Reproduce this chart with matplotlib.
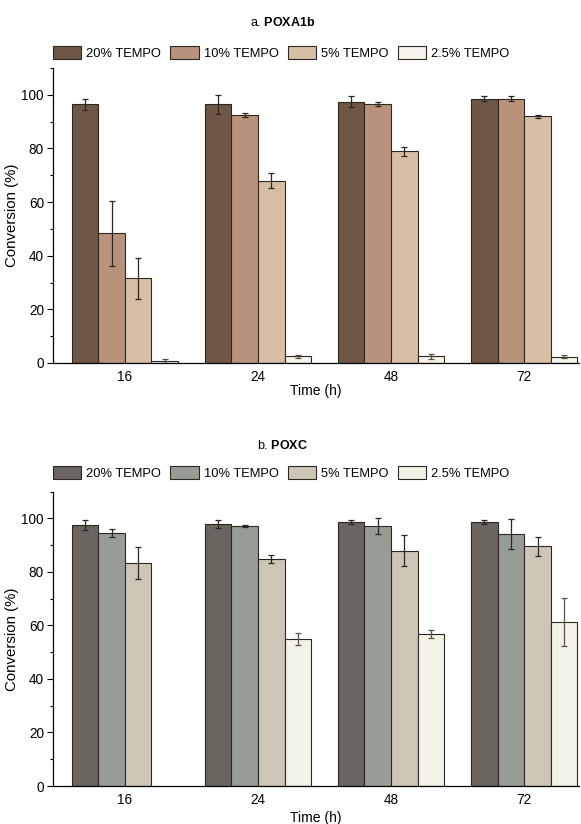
import numpy as np
import matplotlib
matplotlib.use('Agg')
import matplotlib.pyplot as plt
from matplotlib.ticker import MultipleLocator

plt.rcParams['font.family'] = ['Liberation Sans', 'DejaVu Sans']
plt.rcParams['mathtext.fontset'] = 'custom'
plt.rcParams['mathtext.rm'] = 'Liberation Sans'
plt.rcParams['mathtext.bf'] = 'Liberation Sans:bold'

# data
times = ['16', '24', '48', '72']
series = ['20% TEMPO', '10% TEMPO', '5% TEMPO', '2.5% TEMPO']

poxa_20 = [96.5, 96.5, 97.5, 98.6]
poxa_10 = [48.4, 92.5, 96.6, 98.6]
poxa_5 = [31.5, 68.0, 78.9, 92.0]
poxa_2_5 = [0.7, 2.5, 2.5, 2.3]
poxa_20_err = [2.1, 3.6, 2.2, 0.8]
poxa_10_err = [12.1, 0.7, 0.6, 0.8]
poxa_5_err = [7.8, 2.8, 1.6, 0.5]
poxa_2_5_err = [0.8, 0.5, 1.0, 0.5]

poxc_20 = [97.6, 98.1, 98.6, 98.6]
poxc_10 = [94.6, 97.1, 97.3, 94.1]
poxc_5 = [83.4, 85.0, 88.0, 89.6]
poxc_2_5 = [np.nan, 55.0, 56.8, 61.3]
poxc_20_err = [2.0, 1.5, 0.8, 0.8]
poxc_10_err = [1.5, 0.4, 3.0, 5.6]
poxc_5_err = [5.9, 1.5, 5.7, 3.6]
poxc_2_5_err = [np.nan, 2.3, 1.5, 9.0]

poxa_colors = ['#6e5747', '#b8927a', '#d6bfa5', '#f7f3ec']
poxc_colors = ['#6a665f', '#979d94', '#cdc5b5', '#f3f2e6']
err_colors = ['#2b2722', '#2b2722', '#2b2722', '#55524d']

fig = plt.figure(figsize=(5.81, 8.24), dpi=100)


def draw_panel(rect, values, errors, colors, title, title_y, legend_y, xlabel_pad):
    ax = fig.add_axes(rect)
    x = np.arange(len(times))
    w = 0.2
    handles = []
    for i, (vals, errs, c) in enumerate(zip(values, errors, colors)):
        pos = x + (i - 1.5) * w
        bars = ax.bar(pos, vals, width=w, color=c, edgecolor='#2b2722',
                      linewidth=0.8, label=series[i])
        ax.errorbar(pos, vals, yerr=errs, fmt='none', ecolor=err_colors[i],
                    elinewidth=0.9, capsize=2.5, capthick=0.9)
        handles.append(bars)
    ax.set_xlim(-0.54, 3.41)
    ax.set_ylim(0, 110)
    ax.set_xticks(x)
    ax.set_xticklabels(times)
    ax.yaxis.set_major_locator(MultipleLocator(20))
    ax.yaxis.set_minor_locator(MultipleLocator(10))
    ax.tick_params(axis='y', which='major', direction='out', length=4.5, width=0.8,
                   labelsize=9.8, pad=2)
    ax.tick_params(axis='y', which='minor', direction='out', length=2.5, width=0.8)
    ax.tick_params(axis='x', length=0, labelsize=9.8, pad=5)
    for s in ['top', 'right']:
        ax.spines[s].set_visible(False)
    for s in ['left', 'bottom']:
        ax.spines[s].set_linewidth(0.9)
    ax.set_ylabel('Conversion (%)', fontsize=10.8, labelpad=2)
    ax.set_xlabel('Time (h)', fontsize=10, labelpad=xlabel_pad)
    fig.text(0.487, title_y, title, ha='center', va='center', fontsize=9)
    fig.legend(handles=handles, labels=series, loc='center',
               bbox_to_anchor=(0.484, legend_y), ncol=4, frameon=False,
               fontsize=9.3, handlelength=2.2, handleheight=1.1,
               handletextpad=0.4, columnspacing=0.7, borderpad=0)
    return ax


draw_panel([0.0912, 0.5595, 0.905, 0.358],
           [poxa_20, poxa_10, poxa_5, poxa_2_5],
           [poxa_20_err, poxa_10_err, poxa_5_err, poxa_2_5_err],
           poxa_colors, r'a. $\mathbf{POXA1b}$', 1 - 22 / 824, 1 - 53 / 824, 0)

draw_panel([0.0912, 0.0461, 0.905, 0.3572],
           [poxc_20, poxc_10, poxc_5, poxc_2_5],
           [poxc_20_err, poxc_10_err, poxc_5_err, poxc_2_5_err],
           poxc_colors, r'b. $\mathbf{POXC}$', 1 - 445 / 824, 1 - 473 / 824, 3)

fig.savefig('out.png', dpi=100)
